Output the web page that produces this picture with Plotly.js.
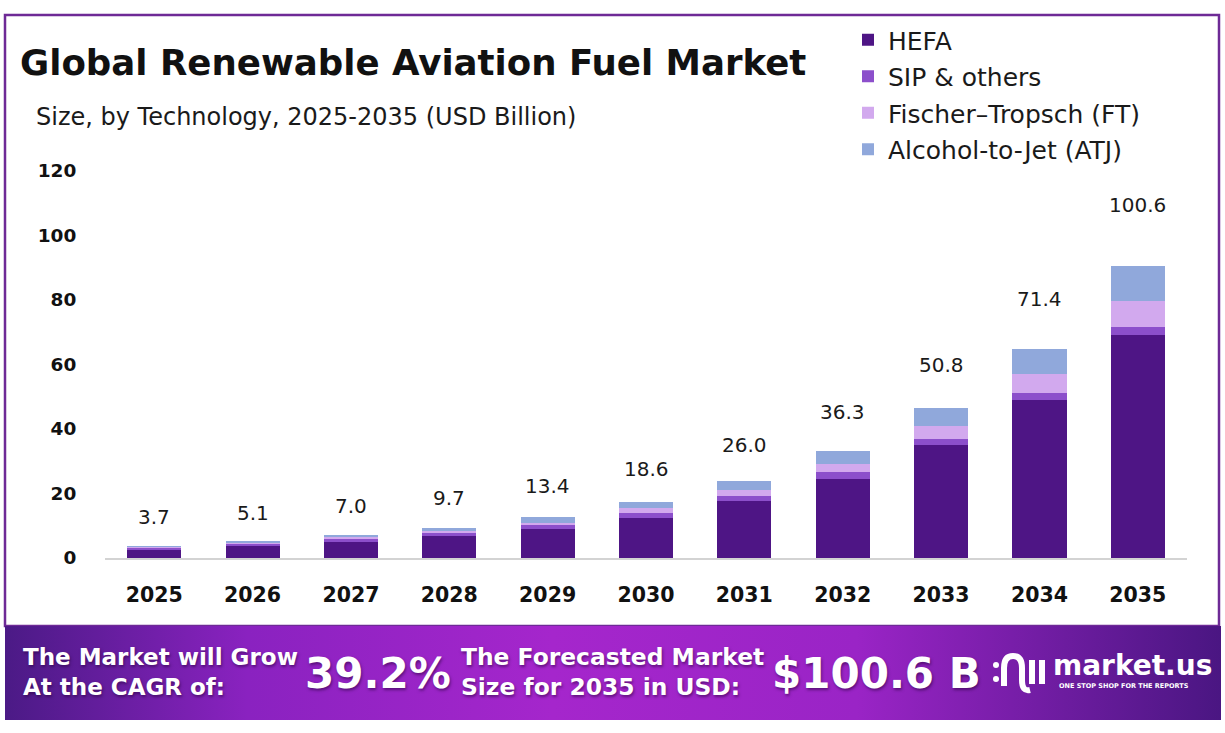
<!DOCTYPE html>
<html>
<head>
<meta charset="utf-8">
<script src="https://cdn.plot.ly/plotly-3.0.1.min.js"></script>
<style>html,body{margin:0;padding:0;background:#fff;}#chart{width:1225px;height:733px;}</style>
</head>
<body>
<div id="chart"></div>
<script>
// ---- data ----
const years = ['2025','2026','2027','2028','2029','2030','2031','2032','2033','2034','2035'];
const hefa = [2.6, 3.6, 5.1, 6.7, 9.0, 12.4, 17.6, 24.6, 35.0, 48.9, 69.2];
const sip  = [0.4, 0.6, 0.85, 0.95, 1.1, 1.5, 1.6, 2.0, 1.9, 2.2, 2.5];
const ft   = [0.4, 0.45, 0.5, 0.6, 0.9, 1.5, 1.9, 2.7, 3.9, 5.9, 8.1];
const atj  = [0.3, 0.5, 0.6, 1.15, 1.6, 2.1, 2.8, 4.0, 5.6, 7.8, 10.7];
const totals = [3.7, 5.1, 7.0, 9.7, 13.4, 18.6, 26.0, 36.3, 50.8, 71.4, 100.6];
const yTicks = [0, 20, 40, 60, 80, 100, 120];
const seriesNames = ['HEFA', 'SIP & others', 'Fischer\u2013Tropsch (FT)', 'Alcohol-to-Jet (ATJ)'];
const seriesColors = ['#4E1585', '#8C4FCB', '#D2A9EE', '#90A8DB'];

// ---- geometry helpers (pixel -> paper) ----
const W = 1225, H = 733;
const M = {l: 105, r: 38, t: 171, b: 175};
const PW = W - M.l - M.r, PH = H - M.t - M.b;
const px = x => (x - M.l) / PW;
const py = y => (H - M.b - y) / PH;

const FONT = '"DejaVu Sans", Inter, sans-serif';

const seriesData = [hefa, sip, ft, atj];
const traces = seriesData.map((vals, i) => ({
  type: 'bar',
  x: years,
  y: vals,
  name: seriesNames[i],
  legendgroup: 'g' + i,
  marker: {color: seriesColors[i], line: {width: 0}},
  width: 0.55,
  hoverinfo: 'x+y+name'
}));

// value labels above bars (x as category index)
const labelAnn = years.map((yr, i) => ({
  x: i, y: totals[i], xref: 'x', yref: 'y',
  text: totals[i].toFixed(1), showarrow: false,
  yanchor: 'middle', yshift: 29,
  font: {family: FONT, size: 20, color: '#1a1a1a'}
}));

const shadow = '1px 2px 3px rgba(40,0,60,0.55)';
const white = '#ffffff';
const bannerAnn = [
  {text: 'The Market will Grow<br>At the CAGR of:', x: px(21), y: py(672), xanchor: 'left', yanchor: 'middle', align: 'left',
   font: {family: FONT, size: 23, weight: 700, color: white, shadow: shadow}},
  {text: '39.2%', x: px(303), y: py(673), xanchor: 'left', yanchor: 'middle',
   font: {family: FONT, size: 42, weight: 700, color: white, shadow: shadow}},
  {text: 'The Forecasted Market<br>Size for 2035 in USD:', x: px(459), y: py(672), xanchor: 'left', yanchor: 'middle', align: 'left',
   font: {family: FONT, size: 23.4, weight: 700, color: white, shadow: shadow}},
  {text: '$100.6 B', x: px(770), y: py(673), xanchor: 'left', yanchor: 'middle',
   font: {family: FONT, size: 42, weight: 700, color: white, shadow: shadow}},
  {text: 'market.us', x: px(1051), y: py(665), xanchor: 'left', yanchor: 'middle',
   font: {family: FONT, size: 28, weight: 700, color: white}},
  {text: 'ONE STOP SHOP FOR THE REPORTS', x: px(1057), y: py(686), xanchor: 'left', yanchor: 'middle',
   font: {family: FONT, size: 6.5, weight: 700, color: white}},
  {text: 'Size, by Technology, 2025-2035 (USD Billion)', x: px(34), y: py(117), xanchor: 'left', yanchor: 'middle',
   font: {family: FONT, size: 24, color: '#1a1a1a'}}
].map(a => Object.assign({xref: 'paper', yref: 'paper', showarrow: false}, a));

const bannerSvg = '<svg xmlns="http://www.w3.org/2000/svg" width="1216" height="94" viewBox="0 0 1216 94" preserveAspectRatio="none">' +
  '<defs><linearGradient id="g" x1="0" y1="0" x2="1" y2="0">' +
  '<stop offset="0" stop-color="#4B1A86"/><stop offset="0.2" stop-color="#8A22C0"/>' +
  '<stop offset="0.45" stop-color="#A526CC"/><stop offset="0.7" stop-color="#9A24C6"/>' +
  '<stop offset="1" stop-color="#4A1682"/></linearGradient></defs>' +
  '<rect width="1216" height="94" fill="url(#g)"/></svg>';

const logoShapes = [
  {type: 'circle', x0: px(993), x1: px(999), y0: py(662), y1: py(668), fillcolor: white, line: {width: 0}},
  {type: 'circle', x0: px(993), x1: px(999), y0: py(676), y1: py(682), fillcolor: white, line: {width: 0}},
  {type: 'path', path: `M ${px(1004)} ${py(686)} L ${px(1004)} ${py(668)} Q ${px(1004)} ${py(656)} ${px(1013)} ${py(656)} Q ${px(1022)} ${py(656)} ${px(1022)} ${py(668)} L ${px(1022)} ${py(680)} Q ${px(1022)} ${py(692)} ${px(1030)} ${py(690)}`,
   line: {color: white, width: 6}},
  {type: 'line', x0: px(1032), x1: px(1032), y0: py(660), y1: py(684), line: {color: white, width: 6}},
  {type: 'line', x0: px(1042), x1: px(1042), y0: py(660), y1: py(684), line: {color: white, width: 6}}
].map(s => Object.assign({xref: 'paper', yref: 'paper', layer: 'above'}, s));

const layout = {
  width: W, height: H, autosize: false,
  margin: M,
  paper_bgcolor: '#ffffff', plot_bgcolor: '#ffffff',
  barmode: 'stack',
  bargap: 0.45,
  showlegend: true,
  title: {text: 'Global Renewable Aviation Fuel Market', xref: 'container', yref: 'container',
          x: 20 / W, xanchor: 'left', y: 1 - 63 / H, yanchor: 'middle',
          font: {family: FONT, size: 35.6, weight: 700, color: '#111111'}},
  legend: {x: px(848), y: py(17), xanchor: 'left', yanchor: 'top', xref: 'paper', yref: 'paper',
           traceorder: 'grouped', tracegroupgap: 1, bgcolor: 'rgba(0,0,0,0)',
           font: {family: FONT, size: 25, color: '#1a1a1a'}, itemwidth: 30},
  xaxis: {type: 'category', range: [-0.5, 10.5], showline: true, linecolor: '#d3d3d3', linewidth: 2,
          showgrid: false, zeroline: false, ticks: 'outside', ticklen: 17, tickcolor: 'rgba(0,0,0,0)',
          tickfont: {family: FONT, size: 20.5, weight: 700, color: '#111111'}, fixedrange: true},
  yaxis: {range: [0, 120], tickvals: yTicks, ticktext: yTicks.map(String), showline: false, showgrid: false,
          zeroline: false, ticks: 'outside', ticklen: 24, tickcolor: 'rgba(0,0,0,0)',
          tickfont: {family: FONT, size: 18.5, weight: 700, color: '#111111'}, fixedrange: true},
  images: [{source: 'data:image/svg+xml;charset=utf-8,' + encodeURIComponent(bannerSvg),
            xref: 'paper', yref: 'paper', x: px(5), y: py(626), sizex: 1216 / PW, sizey: 94 / PH,
            xanchor: 'left', yanchor: 'top', sizing: 'stretch', layer: 'above'}],
  shapes: [
    {type: 'rect', xref: 'paper', yref: 'paper', x0: px(5), x1: px(1219), y0: py(626), y1: py(15),
     line: {color: '#6E2A96', width: 2.5}, fillcolor: 'rgba(0,0,0,0)', layer: 'below'}
  ].concat(logoShapes),
  annotations: labelAnn.concat(bannerAnn)
};

Plotly.newPlot('chart', traces, layout, {displayModeBar: false, staticPlot: true});
</script>
</body>
</html>
